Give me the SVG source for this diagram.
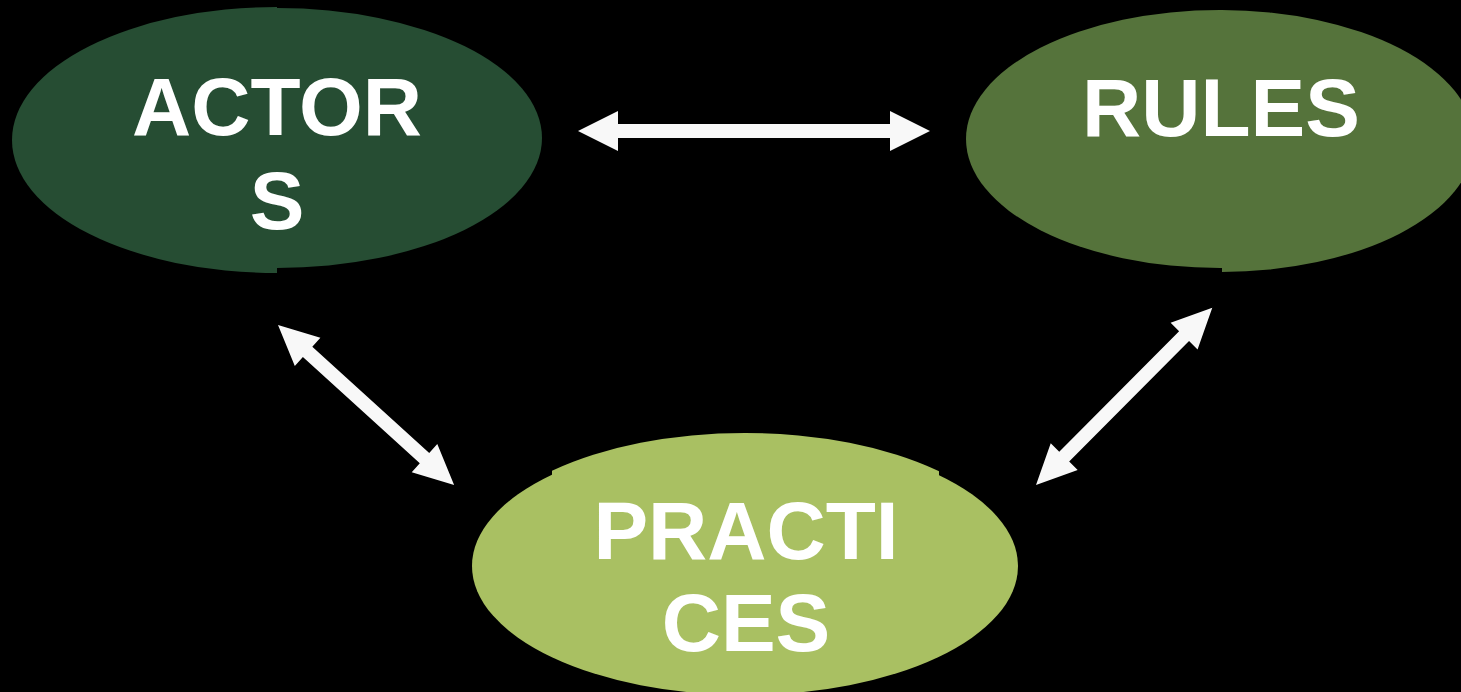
<svg xmlns="http://www.w3.org/2000/svg" width="1461" height="692" viewBox="0 0 1461 692">
<defs>
<style>
.lbl{font-family:"Liberation Sans",Arial,sans-serif;font-weight:bold;font-size:82px;fill:#ffffff;text-anchor:middle}
.arr{fill:#f8f8f8}
</style>
<clipPath id="cl"><rect x="0" y="0" width="277" height="300"/></clipPath>
<clipPath id="cr"><rect x="277" y="0" width="300" height="300"/></clipPath>
<clipPath id="rl"><rect x="940" y="0" width="282" height="300"/></clipPath>
<clipPath id="rr"><rect x="1222" y="0" width="300" height="300"/></clipPath>
<clipPath id="pm"><rect x="552" y="400" width="387" height="165"/></clipPath>
</defs>
<rect width="1461" height="692" fill="#000"/>
<g id="actors">
<ellipse cx="277" cy="140" rx="265" ry="133" fill="#264D33" clip-path="url(#cl)"/>
<ellipse cx="277" cy="138" rx="265" ry="130" fill="#264D33" clip-path="url(#cr)"/>
<text class="lbl" x="277" y="135">ACTOR</text>
<text class="lbl" x="277" y="229">S</text>
</g>
<g id="rules">
<ellipse cx="1220" cy="139" rx="254" ry="129" fill="#55733B" clip-path="url(#rl)"/>
<ellipse cx="1220" cy="141" rx="254" ry="131" fill="#55733B" clip-path="url(#rr)"/>
<text class="lbl" x="1221" y="136">RULES</text>
</g>
<g id="practices">
<ellipse cx="745" cy="566" rx="273" ry="129" fill="#A9C062"/>
<ellipse cx="745" cy="562" rx="273" ry="129" fill="#A9C062" clip-path="url(#pm)"/>
<text class="lbl" x="746" y="559">PRACTI</text>
<text class="lbl" x="746" y="651">CES</text>
</g>
<g id="connectors">
<path class="arr" transform="translate(578,131)" d="M0,0 L40,-20 L40,-7 L312,-7 L312,-20 L352,0 L312,20 L312,7 L40,7 L40,20 Z"/>
<path class="arr" transform="translate(278,325) rotate(42.27)" d="M0,0 L40,-19 L40,-7 L198,-7 L198,-19 L238,0 L198,19 L198,7 L40,7 L40,19 Z"/>
<path class="arr" transform="translate(1036,485) rotate(-45.16)" d="M0,0 L40,-19 L40,-7 L210,-7 L210,-19 L250,0 L210,19 L210,7 L40,7 L40,19 Z"/>
</g>
</svg>
